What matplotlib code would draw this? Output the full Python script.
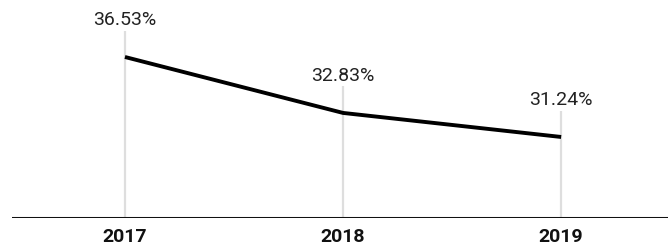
import matplotlib
matplotlib.use('Agg')
import matplotlib.pyplot as plt

years = ['2017', '2018', '2019']
values = [36.53, 32.83, 31.24]

plt.rcParams['font.family'] = ['Roboto', 'DejaVu Sans']

fig = plt.figure(figsize=(6.68, 2.46), dpi=100)
ax = fig.add_axes([12 / 668, 28 / 246, 656 / 668, 218 / 246])

xs = list(range(len(years)))
ymin, ymax = 25.88, 40.3

# grey guide lines from baseline up to just under the labels
for x, v in zip(xs, values):
    ax.vlines(x, ymin, v + 1.75, color='#dedede', lw=1.6, zorder=1)

ax.plot(xs, values, color='black', lw=2.8, solid_capstyle='butt', zorder=3)

for x, v in zip(xs, values):
    ax.annotate(f'{v:.2f}%', (x, v), xytext=(0, 26.5), textcoords='offset points',
                ha='center', va='center', fontsize=14, color='#222222')

ax.axhline(ymin, color='#111111', lw=2.2, zorder=4)

ax.set_xlim(-0.518, 2.49)
ax.set_ylim(ymin, ymax)
ax.set_xticks(xs)
ax.set_xticklabels(years, fontsize=14, fontweight='bold', color='#111111')
ax.tick_params(axis='x', length=0, pad=7)
ax.set_yticks([])
for s in ax.spines.values():
    s.set_visible(False)

fig.savefig('out.png', dpi=100)
